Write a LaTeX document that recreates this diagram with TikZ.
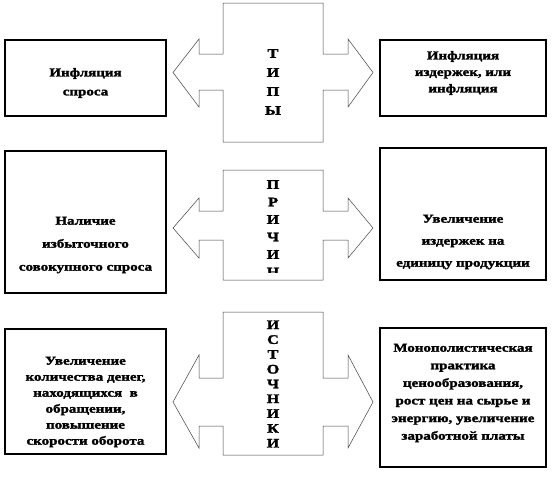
\documentclass[tikz,border=0pt]{standalone}
\usepackage{fontspec}
\newfontfamily\boxfont[FakeStretch=1.25, BoldFeatures={FakeBold=2}]{Liberation Serif}
\tikzset{
  kindbox/.style={draw=black, line width=2.4pt, inner sep=0pt},
  kindtext/.style={font=\boxfont\bfseries\fontsize{12}{#1}\selectfont, align=center, inner sep=0pt},
  kindletters/.style={font=\boxfont\bfseries\fontsize{13}{#1}\selectfont, align=center, inner sep=0pt},
  crossline/.style={draw=black!75, line width=0.5pt}
}
% cross arrow: top, bottom, shaft top, shaft bottom, head top, head bottom, tip
\newcommand{\crossarrow}[7]{%
  \draw[crossline] (223,#1) -- (323,#1) -- (323,#3) -- (348,#3) -- (348,#5) -- (373,#7) -- (348,#6) -- (348,#4) -- (323,#4) -- (323,#2) -- (223,#2) -- (223,#4) -- (199,#4) -- (199,#6) -- (173,#7) -- (199,#5) -- (199,#3) -- (223,#3) -- cycle;}
\begin{document}
\begin{tikzpicture}[x=1pt,y=-1pt]
\useasboundingbox (0,0) rectangle (560,498);
% types
\crossarrow{3}{142}{54}{90}{39}{107}{72.5}
\node[kindletters=19] (types) at (273,82) {Т\\И\\П\\Ы};
\node[kindbox, minimum width=161pt, minimum height=76pt] (demandbox) at (85.5,78) {};
\node[kindtext=19] (demand) at (85.5,83) {Инфляция\\спроса};
\node[kindbox, minimum width=166pt, minimum height=76pt] (costbox) at (463,78) {};
\node[kindtext=16.5] (cost) at (463,73) {Инфляция\\издержек, или\\инфляция};
% causes
\crossarrow{170}{280}{211}{240}{198}{258}{228}
\begin{scope}
\clip (223,171) rectangle (323,272.5);
\node[kindletters=17.5] (causes) at (273,237) {П\\Р\\И\\Ч\\И\\Н\\Ы};
\end{scope}
\node[kindbox, minimum width=161pt, minimum height=142pt] (excessbox) at (85.5,222) {};
\node[kindtext=23] (excess) at (85.5,245) {Наличие\\избыточного\\совокупного спроса};
\node[kindbox, minimum width=166pt, minimum height=132pt] (unitbox) at (463,214) {};
\node[kindtext=22] (unit) at (463,242) {Увеличение\\издержек на\\единицу продукции};
% sources
\crossarrow{312}{455}{378}{426}{355}{448}{402}
\node[kindletters=14.8] (sources) at (273,384) {И\\С\\Т\\О\\Ч\\Н\\И\\К\\И};
\node[kindbox, minimum width=161pt, minimum height=125pt] (moneybox) at (85.5,391.5) {};
\node[kindtext=16] (money) at (85.5,402) {Увеличение\\количества денег,\\находящихся \ в\\обращении,\\повышение\\скорости оборота};
\node[kindbox, minimum width=166pt, minimum height=139pt] (monopbox) at (463,397.5) {};
\node[kindtext=17.6] (monop) at (463,393) {Монополистическая\\практика\\ценообразования,\\рост цен на сырье и\\энергию, увеличение\\заработной платы};
\end{tikzpicture}
\end{document}
